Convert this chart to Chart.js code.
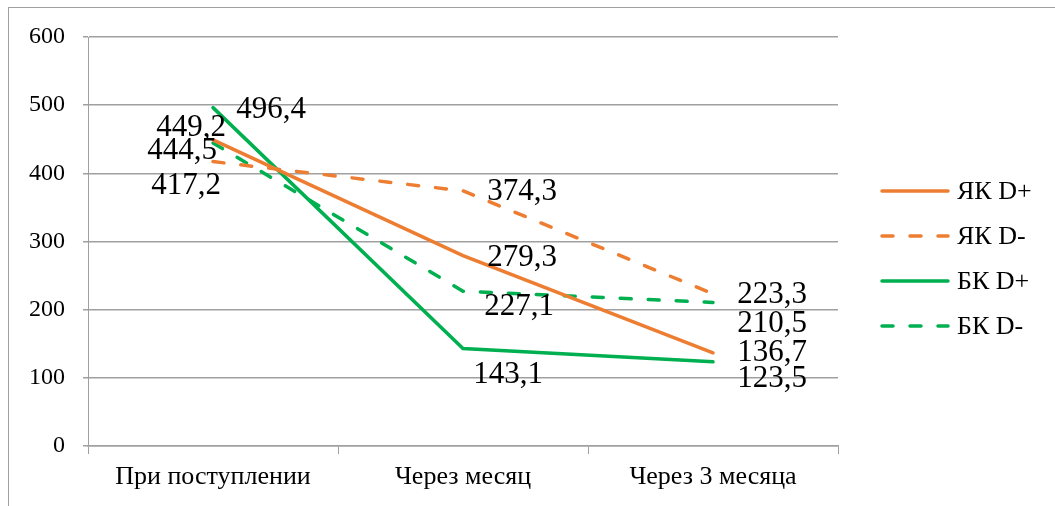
<!DOCTYPE html>
<html lang="ru">
<head>
    <meta charset="UTF-8">
    <title>Chart</title>
    <script src="https://cdn.jsdelivr.net/npm/chart.js@4.4.0/dist/chart.umd.min.js"></script>
    <style>
        body {
            margin: 0;
            background: #fff;
            overflow: hidden;
            font-family: "Liberation Serif", serif;
        }
        .box {
            position: absolute;
            left: 8px;
            top: 7px;
            width: 1060px;
            height: 520px;
            border: 1px solid #a0a0a0;
            border-width: 1px 0 0 1px;
        }
        canvas {
            display: block;
        }
    </style>
</head>
<body>
    <div class="box">
        <canvas id="myChart" width="1046" height="498"></canvas>
    </div>

    <script>
        const categories = ['При поступлении', 'Через месяц', 'Через 3 месяца'];
        const seriesNames = ['ЯК D+', 'ЯК D-', 'БК D+', 'БК D-'];
        const jakPlus = [449.2, 279.3, 136.7];
        const jakMinus = [417.2, 374.3, 223.3];
        const bkPlus = [496.4, 143.1, 123.5];
        const bkMinus = [444.5, 227.1, 210.5];
        const yTicks = [0, 100, 200, 300, 400, 500, 600];

        const orange = '#ED7D31';
        const green = '#00B050';
        const dash = [11, 17];

        // label offsets (px) from each point, per series
        const labelOffsets = [
            [[-22, -12], [59, 2], [59, 0]],
            [[-27, 24], [59, 1], [59, 1]],
            [[58, 2], [45, 26], [59, 17]],
            [[-31, 8], [56, 16], [59, 21]]
        ];

        const valueLabels = {
            id: 'valueLabels',
            afterDatasetsDraw(chart) {
                const ctx = chart.ctx;
                ctx.save();
                ctx.font = '31px "Liberation Serif"';
                ctx.fillStyle = '#000';
                ctx.textAlign = 'center';
                ctx.textBaseline = 'middle';
                chart.data.datasets.forEach((ds, i) => {
                    chart.getDatasetMeta(i).data.forEach((pt, j) => {
                        const off = labelOffsets[i][j];
                        ctx.fillText(String(ds.data[j]).replace('.', ','), pt.x + off[0], pt.y + off[1]);
                    });
                });
                ctx.restore();
            }
        };

        // legend drawn by hand so the dashes show like in the original
        const sideLegend = {
            id: 'sideLegend',
            afterDraw(chart) {
                const ctx = chart.ctx;
                const area = chart.chartArea;
                const x0 = area.right + 42;
                ctx.save();
                ctx.font = '26px "Liberation Serif"';
                ctx.textBaseline = 'middle';
                ctx.textAlign = 'left';
                chart.data.datasets.forEach((ds, i) => {
                    const y = area.top + 154 + i * 45;
                    ctx.strokeStyle = ds.borderColor;
                    ctx.lineWidth = ds.borderWidth;
                    ctx.lineCap = 'round';
                    ctx.setLineDash(ds.borderDash);
                    ctx.beginPath();
                    ctx.moveTo(x0 + 2, y);
                    ctx.lineTo(x0 + 68, y);
                    ctx.stroke();
                    ctx.setLineDash([]);
                    ctx.fillStyle = '#000';
                    ctx.fillText(ds.label, x0 + 77, y + 1);
                });
                ctx.restore();
            }
        };

        function ds(label, data, color, dashed) {
            return {
                label: label,
                data: data,
                borderColor: color,
                backgroundColor: color,
                borderWidth: 3.5,
                borderDash: dashed ? dash : [],
                borderCapStyle: 'round',
                pointRadius: 0,
                tension: 0
            };
        }

        const ctx = document.getElementById('myChart').getContext('2d');
        new Chart(ctx, {
            type: 'line',
            data: {
                labels: categories,
                datasets: [
                    ds(seriesNames[0], jakPlus, orange, false),
                    ds(seriesNames[1], jakMinus, orange, true),
                    ds(seriesNames[2], bkPlus, green, false),
                    ds(seriesNames[3], bkMinus, green, true)
                ]
            },
            options: {
                responsive: false,
                animation: false,
                layout: { padding: { top: 29, right: 217, left: 0, bottom: 0 } },
                plugins: {
                    tooltip: { enabled: false },
                    legend: { display: false }
                },
                scales: {
                    x: {
                        offset: true,
                        afterFit: axis => {
                            axis.height = 60;
                            axis.paddingLeft = 0;
                            axis.paddingRight = 0;
                        },
                        grid: {
                            display: true,
                            drawOnChartArea: false,
                            offset: true,
                            tickLength: 8,
                            color: '#a0a0a0'
                        },
                        border: { color: '#a0a0a0', width: 1.5 },
                        ticks: {
                            color: '#000',
                            padding: 8,
                            font: { family: '"Liberation Serif"', size: 26 }
                        }
                    },
                    y: {
                        min: 0,
                        max: 600,
                        afterFit: axis => {
                            axis.width = 79;
                            axis.paddingTop = 0;
                            axis.paddingBottom = 0;
                        },
                        afterBuildTicks: axis => { axis.ticks = yTicks.map(v => ({ value: v })); },
                        grid: { color: '#a0a0a0', tickLength: 5, lineWidth: 1.5 },
                        border: { color: '#a0a0a0', width: 1 },
                        ticks: {
                            color: '#000',
                            padding: 18,
                            font: { family: '"Liberation Serif"', size: 24 }
                        }
                    }
                }
            },
            plugins: [valueLabels, sideLegend]
        });
    </script>
</body>
</html>
